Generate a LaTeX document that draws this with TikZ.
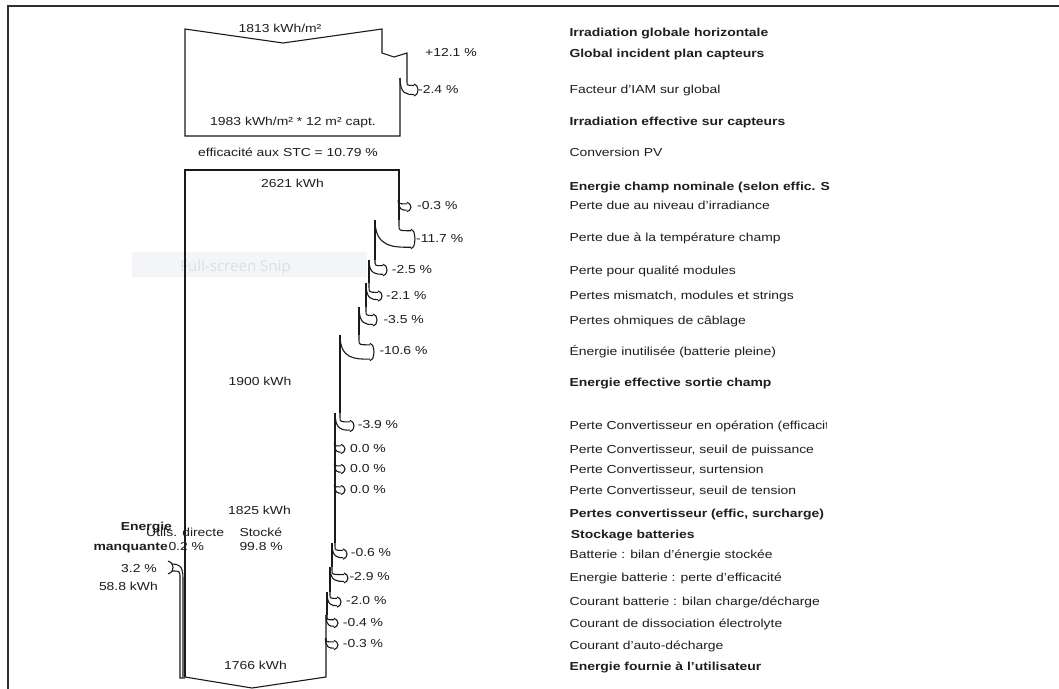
\documentclass[tikz,border=0pt]{standalone}
\usepackage{fontspec}
\setmainfont{Liberation Sans}[FakeStretch=1.2]
\newfontfamily\snipfont{Noto Sans}
\definecolor{ink}{HTML}{1A1A1A}
\definecolor{txt}{HTML}{1E1E1E}
\definecolor{framec}{HTML}{303030}
\definecolor{snipbg}{HTML}{F3F5F9}
\definecolor{sniptx}{HTML}{DCE0E7}
\newcommand\lossarr[5]{%
  \pgfmathsetmacro\arW{#2-#1}%
  \pgfmathsetmacro\arHW{3+0.22*\arW}%
  \pgfmathsetmacro\arXE{#4-4}%
  \pgfmathsetmacro\arYOS{#3+0.3*(#5-#3)}%
  \pgfmathsetmacro\arYT{#5-\arHW}%
  \pgfmathsetmacro\arYB{#5+\arHW}%
  \pgfmathsetmacro\arYTT{\arYT-1.5}%
  \pgfmathsetmacro\arYBB{\arYB+1.5}%
  \pgfmathsetmacro\arXM{(#1+\arXE)/2}%
  \pgfmathsetmacro\arXT{#4-1}%
  \draw[flow] (#2,#3) -- (#2,\arYOS) .. controls (#2,\arYT) .. (\arXE,\arYT);
  \draw[flow] (#1,#3) .. controls (#1,\arYB) and (\arXM,\arYB) .. (\arXE,\arYB);
  \draw[flow] (\arXE,\arYTT) .. controls (\arXT,\arYT) .. (#4,#5) .. controls (\arXT,\arYB) .. (\arXE,\arYBB);
}
\begin{document}
\begin{tikzpicture}[x=1pt,y=-1pt,
  flow/.style={draw=ink,line width=1.1pt,line join=miter},
  lbl/.style={anchor=base west,inner sep=0pt,text=txt,font=\fontsize{11.6}{13}\selectfont},
  lblb/.style={lbl,font=\fontsize{11.6}{13}\selectfont\bfseries},
  valc/.style={lbl,anchor=base},
  vale/.style={lbl,anchor=base east},
  valeb/.style={lblb,anchor=base east},
]
\useasboundingbox (0,0) rectangle (1059,688);
\fill[white] (0,0) rectangle (1059,688);
% screenshot artefact
\fill[snipbg] (132,252) rectangle (367,277);
\node[anchor=base west,inner sep=0pt,text=sniptx,font=\snipfont\fontsize{15}{17}\selectfont] (snip) at (180,271) {Full-screen Snip};
% frame
\draw[framec,line width=1.6pt] (8,690) -- (8,6) -- (1061,6);

% ---------- top box : irradiation ----------
\draw[flow] (400,78) -- (400,136) -- (185,136) -- (185,29) -- (283,43) -- (382,29) -- (382,53) -- (394,57) -- (407,53) -- (407,78);
\lossarr{400}{407}{78}{418}{90}

% ---------- main box ----------
\draw[flow] (185,677) -- (185,170) -- (399,170) -- (399,220);
\draw[flow] (375,220) -- (375,260);
\draw[flow] (369,260) -- (369,283);
\draw[flow] (366,283) -- (366,307);
\draw[flow] (359,307) -- (359,335);
\draw[flow] (340,335) -- (340,413);
\draw[flow] (335,413) -- (335,543);
\draw[flow] (332,543) -- (332,567);
\draw[flow] (330,567) -- (330,592);
\draw[flow] (327,592) -- (327,615);
\draw[flow] (326,615) -- (326,677) -- (252,688) -- (185,677);

\lossarr{398.2}{399}{200}{411}{207}
\lossarr{375}{399}{220}{415}{239}
\lossarr{369}{375}{260}{387}{270}
\lossarr{366}{369}{283}{382}{296}
\lossarr{359}{366}{307}{377}{320}
\lossarr{340}{359}{335}{374}{352}
\lossarr{335}{340}{413}{354}{426}
\lossarr{334.4}{335}{443}{345}{449}
\lossarr{334.4}{335}{463}{345}{469}
\lossarr{334.4}{335}{484}{345}{490}
\lossarr{332}{335}{543}{347}{554}
\lossarr{330}{332}{567}{348}{578}
\lossarr{327}{330}{592}{341}{602}
\lossarr{326}{327}{615}{338}{623}
\lossarr{325.4}{326}{638}{338}{645}

% missing energy band
\draw[flow] (185,678) -- (180,678) -- (180,578) .. controls (180,571) .. (172,571);
\draw[flow] (183,677) -- (183,578) .. controls (183,565) and (178,564) .. (172,564);
\draw[flow] (168,561) .. controls (172,563) .. (173,567.5) .. controls (172,572) .. (168,574);

% ---------- diagram values ----------
\node[valc] (g1) at (280,32.7) {1813 kWh/m²};
\node[lbl] (g2) at (425,56.7) {+12.1 \%};
\node[lbl] (g3) at (418,93.3) {-2.4 \%};
\node[valc] (g4) at (293,125) {1983 kWh/m² * 12 m² capt.};
\node[valc] (g5) at (288,156.7) {efficacité aux STC = 10.79 \%};
\node[valc] (e1) at (292.5,187.3) {2621 kWh};
\node[lbl] (p1) at (417,209.3) {-0.3 \%};
\node[lbl] (p2) at (416,242) {-11.7 \%};
\node[lbl] (p3) at (391.7,273.3) {-2.5 \%};
\node[lbl] (p4) at (386,299.3) {-2.1 \%};
\node[lbl] (p5) at (383.3,323.3) {-3.5 \%};
\node[lbl] (p6) at (379.3,354.3) {-10.6 \%};
\node[valc] (e2) at (260,385) {1900 kWh};
\node[lbl] (c1) at (357.7,428.3) {-3.9 \%};
\node[lbl] (c2) at (350,452.3) {0.0 \%};
\node[lbl] (c3) at (350,472.7) {0.0 \%};
\node[lbl] (c4) at (350,493.3) {0.0 \%};
\node[valc] (e3) at (259.5,514.3) {1825 kWh};
\node[lblb] (m1) at (120.7,530) {Energie};
\node[lbl] (u1) at (146,536) {Utils. directe};
\node[lbl] (s1) at (239.3,536) {Stocké};
\node[valeb] (m2) at (168,550.7) {manquante};
\node[lbl] (u2) at (168.3,550.7) {0.2 \%};
\node[lbl] (s2) at (239.3,550.7) {99.8 \%};
\node[vale] (m3) at (157,572.7) {3.2 \%};
\node[vale] (m4) at (158,590) {58.8 kWh};
\node[lbl] (b1) at (350.7,556.7) {-0.6 \%};
\node[lbl] (b2) at (349.3,580) {-2.9 \%};
\node[lbl] (b3) at (346,604) {-2.0 \%};
\node[lbl] (b4) at (342.7,626) {-0.4 \%};
\node[lbl] (b5) at (342.7,647.3) {-0.3 \%};
\node[valc] (e4) at (255.5,669.3) {1766 kWh};

% ---------- right column labels ----------
\node[lblb] (r1) at (569.3,36.7) {Irradiation globale horizontale};
\node[lblb] (r2) at (569.3,57.7) {Global incident plan capteurs};
\node[lbl] (r3) at (569.3,93.3) {Facteur d'IAM sur global};
\node[lblb] (r4) at (569.3,125.7) {Irradiation effective sur capteurs};
\node[lbl] (r5) at (569.3,156.7) {Conversion PV};
\node[lblb] (r6) at (569.3,190) {Energie champ nominale (selon effic. S};
\node[lbl] (r7) at (569.3,209.5) {Perte due au niveau d'irradiance};
\node[lbl] (r8) at (569.3,241.7) {Perte due à la température champ};
\node[lbl] (r9) at (569.3,274) {Perte pour qualité modules};
\node[lbl] (r10) at (569.3,299.3) {Pertes mismatch, modules et strings};
\node[lbl] (r11) at (569.3,324) {Pertes ohmiques de câblage};
\node[lbl] (r12) at (569.3,355.7) {Énergie inutilisée (batterie pleine)};
\node[lblb] (r13) at (569.3,386) {Energie effective sortie champ};
\begin{scope}
\clip (560,415) rectangle (826,435);
\node[lbl] (r14) at (569.3,429.3) {Perte Convertisseur en opération (efficacité)};
\end{scope}
\node[lbl] (r15) at (569.3,453.3) {Perte Convertisseur, seuil de puissance};
\node[lbl] (r16) at (569.3,473.3) {Perte Convertisseur, surtension};
\node[lbl] (r17) at (569.3,494) {Perte Convertisseur, seuil de tension};
\node[lblb] (r18) at (569.3,517.3) {Pertes convertisseur (effic, surcharge)};
\node[lblb] (r19) at (570.7,538.3) {Stockage batteries};
\node[lbl] (r20) at (569.3,558.3) {Batterie : bilan d'énergie stockée};
\node[lbl] (r21) at (569.3,581.7) {Energie batterie : perte d'efficacité};
\node[lbl] (r22) at (569.3,605) {Courant batterie : bilan charge/décharge};
\node[lbl] (r23) at (569.3,627.3) {Courant de dissociation électrolyte};
\node[lbl] (r24) at (569.3,649.3) {Courant d'auto-décharge};
\node[lblb] (r25) at (569.3,670.7) {Energie fournie à l'utilisateur};
\end{tikzpicture}
\end{document}
